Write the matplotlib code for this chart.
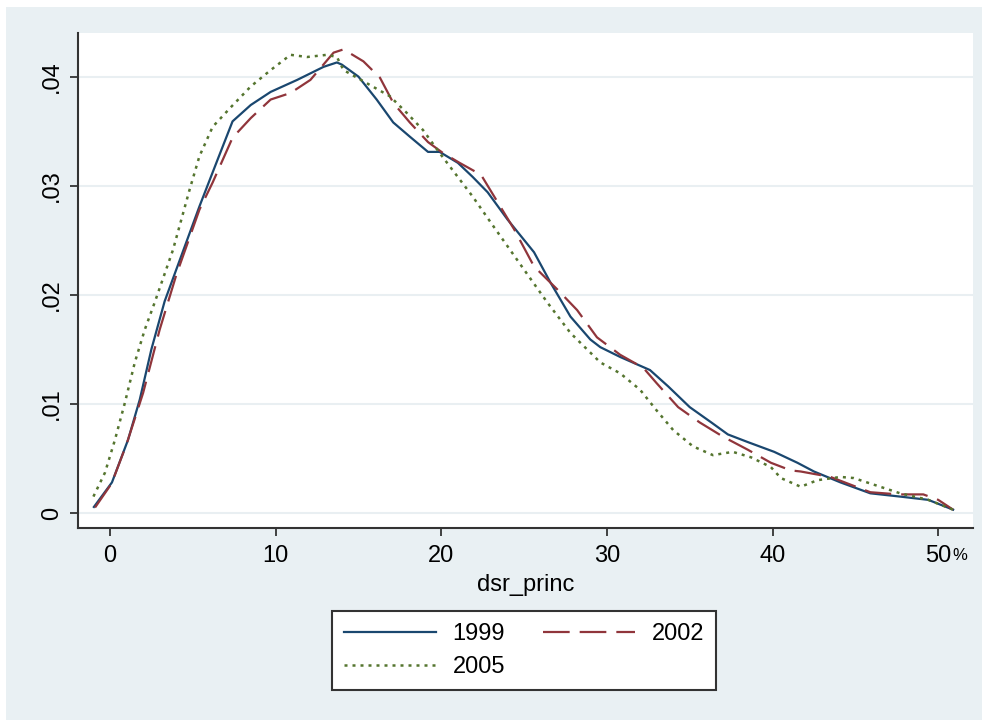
import numpy as np
import matplotlib
matplotlib.use("Agg")
import matplotlib.pyplot as plt
from matplotlib.patches import Rectangle

plt.rcParams['font.family'] = ['Liberation Sans', 'DejaVu Sans']

# kernel density curves
x1999 = [-0.97, 0.12, 1.09, 1.8, 2.5, 3.3, 5.4, 6.5, 7.4, 8.5, 9.7, 11.3, 12.9, 13.7, 14.0,
         15.0, 16.1, 17.1, 18.1, 19.2, 19.9, 21.0, 21.9, 22.8, 24.0, 25.6, 26.6, 27.8, 29.0,
         29.6, 30.8, 32.6, 33.7, 35.0, 36.3, 37.3, 38.5, 40.1, 41.5, 42.5, 44.1, 45.9, 47.7,
         49.4, 50.9]
y1999 = [0.00055, 0.0028, 0.0067, 0.0104, 0.0150, 0.0194, 0.0281, 0.0324, 0.0359, 0.0374,
         0.0386, 0.0397, 0.0409, 0.0413, 0.0411, 0.0400, 0.0379, 0.0358, 0.0345, 0.0331,
         0.0331, 0.0321, 0.0308, 0.0294, 0.0269, 0.0239, 0.0211, 0.0180, 0.0159, 0.0152,
         0.0143, 0.0131, 0.0116, 0.0097, 0.0083, 0.0072, 0.0065, 0.0056, 0.0046, 0.0038,
         0.0028, 0.0018, 0.0015, 0.0012, 0.0003]

x2002 = [-0.9, 0.1, 1.0, 2.0, 3.0, 4.0, 5.4, 6.2, 7.4, 8.5, 9.7, 10.9, 12.1, 13.5, 14.1,
         15.3, 16.3, 17.1, 18.1, 19.2, 20.1, 21.1, 22.4, 23.2, 24.4, 25.6, 27.0, 28.2, 29.4,
         30.8, 32.2, 33.0, 34.3, 35.6, 37.0, 38.5, 39.9, 41.1, 41.7, 43.5, 45.9, 47.6, 49.1,
         50.0, 50.9]
y2002 = [0.0005, 0.0027, 0.0063, 0.0110, 0.0168, 0.0218, 0.0278, 0.0303, 0.0344, 0.0362,
         0.0379, 0.0385, 0.0397, 0.0422, 0.0425, 0.0414, 0.0399, 0.0376, 0.0358, 0.0340,
         0.0330, 0.0321, 0.0310, 0.0290, 0.0260, 0.0226, 0.0205, 0.0186, 0.0161, 0.0145,
         0.0133, 0.0119, 0.0097, 0.0083, 0.0070, 0.0058, 0.0046, 0.0039, 0.0038, 0.0033,
         0.0019, 0.0017, 0.0017, 0.0012, 0.0003]

x2005 = [-1.0, -0.3, 0.3, 0.9, 1.5, 2.1, 2.7, 3.8, 4.8, 5.4, 6.2, 7.3, 8.5, 9.7, 10.9, 11.9,
         13.1, 13.7, 14.1, 15.5, 16.9, 17.9, 18.9, 19.9, 21.0, 21.9, 23.0, 25.0, 26.4, 27.8,
         29.6, 30.8, 32.0, 33.0, 34.0, 35.2, 36.4, 37.6, 38.7, 39.9, 40.5, 41.7, 42.7, 44.1,
         44.9, 46.5, 47.7, 49.4, 50.9]
y2005 = [0.0015, 0.0037, 0.0067, 0.0101, 0.0138, 0.0168, 0.0193, 0.0241, 0.0296, 0.0327,
         0.0354, 0.0372, 0.0391, 0.0406, 0.0420, 0.0418, 0.0420, 0.0418, 0.0406, 0.0394,
         0.0382, 0.0367, 0.0351, 0.0330, 0.0308, 0.0290, 0.0266, 0.0223, 0.0193, 0.0165,
         0.0138, 0.0128, 0.0113, 0.0094, 0.0076, 0.0061, 0.0053, 0.0056, 0.0051, 0.0042,
         0.0032, 0.0024, 0.0030, 0.0033, 0.0032, 0.0024, 0.0018, 0.0012, 0.0003]

xticks = [0, 10, 20, 30, 40, 50]
yticks = [0, 0.01, 0.02, 0.03, 0.04]
ytick_labels = ['0', '.01', '.02', '.03', '.04']

bg = '#E9F0F3'
fig = plt.figure(figsize=(9.82, 7.2), dpi=100, facecolor='white')
fig.patches.append(Rectangle((6/982, 0), 1, 1 - 7/720, transform=fig.transFigure,
                             facecolor=bg, edgecolor='none', zorder=-10))

ax = fig.add_axes([78/982, 1 - 528/720, (973 - 78)/982, (528 - 33)/720])
ax.set_facecolor('white')

l1, = ax.plot(x1999, y1999, color='#1a476f', lw=1.6, label='1999')
l2, = ax.plot(x2002, y2002, color='#90353b', lw=1.6, label='2002')
l2.set_dashes((12, 4.5))
l3, = ax.plot(x2005, y2005, color='#55752f', lw=1.8, label='2005')
l3.set_dashes((1.2, 2.0))

ax.set_xlim(-1.93, 52.1)
ax.set_ylim(-0.00138, 0.044)

ax.set_xticks(xticks)
ax.set_yticks(yticks)
ax.set_yticklabels(ytick_labels, rotation=90, va='center')
ax.tick_params(axis='both', labelsize=17, length=6, width=1.3, color='#333333',
               direction='out')
ax.tick_params(axis='x', pad=6)
ax.tick_params(axis='y', pad=5)

for s in ['top', 'right']:
    ax.spines[s].set_visible(False)
for s in ['left', 'bottom']:
    ax.spines[s].set_color('#333333')
    ax.spines[s].set_linewidth(1.5)

ax.yaxis.grid(True, color='#E9EFF2', lw=1.5)
ax.set_axisbelow(True)

ax.text(50.85, -0.0039, '%', fontsize=12, ha='left', va='center', clip_on=False)
ax.set_xlabel('dsr_princ', fontsize=17, labelpad=5)

leg = fig.legend([l1, l3, l2], ['1999', '2005', '2002'], ncol=2, loc='center',
                 bbox_to_anchor=(524/982, 1 - 650.5/720), bbox_transform=fig.transFigure,
                 fontsize=17, frameon=True, fancybox=False, handlelength=3.9,
                 handletextpad=0.7, columnspacing=1.6, labelspacing=0.45, borderpad=0.5)
leg.get_frame().set_edgecolor('#333333')
leg.get_frame().set_linewidth(1.5)
leg.get_frame().set_facecolor('white')
leg.get_frame().set_alpha(1)

fig.savefig('out.png', dpi=100, facecolor=fig.get_facecolor())
